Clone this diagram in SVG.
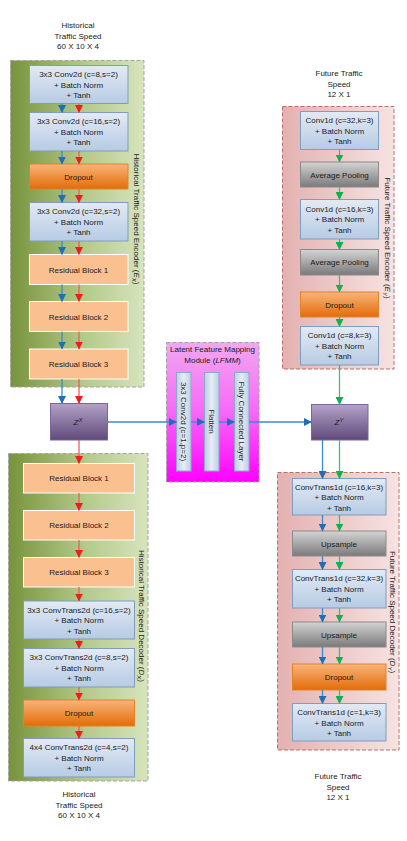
<svg xmlns="http://www.w3.org/2000/svg" width="407" height="841" viewBox="0 0 407 841">
<defs>
<linearGradient id="gGreen" x1="0" y1="0" x2="1" y2="0">
<stop offset="0" stop-color="#77933C"/><stop offset="0.55" stop-color="#B4C98A"/><stop offset="1" stop-color="#D7E4BD"/>
</linearGradient>
<linearGradient id="gPink" x1="0" y1="0" x2="1" y2="0">
<stop offset="0" stop-color="#E3B1B0"/><stop offset="1" stop-color="#F6E3E2"/>
</linearGradient>
<linearGradient id="gMag" x1="0" y1="0" x2="0" y2="1">
<stop offset="0" stop-color="#F0A8F0"/><stop offset="0.5" stop-color="#F868F8"/><stop offset="1" stop-color="#FF00FF"/>
</linearGradient>
<linearGradient id="gBlue" x1="0" y1="0" x2="0" y2="1">
<stop offset="0" stop-color="#E2EAF4"/><stop offset="1" stop-color="#B7CBE4"/>
</linearGradient>
<linearGradient id="gBar" x1="0" y1="0" x2="1" y2="0">
<stop offset="0" stop-color="#BCCDE3"/><stop offset="0.5" stop-color="#E6EDF6"/><stop offset="1" stop-color="#BCCDE3"/>
</linearGradient>
<linearGradient id="gOrange" x1="0" y1="0" x2="0" y2="1">
<stop offset="0" stop-color="#F9B47A"/><stop offset="1" stop-color="#E36C09"/>
</linearGradient>
<linearGradient id="gGray" x1="0" y1="0" x2="0" y2="1">
<stop offset="0" stop-color="#D4D4D4"/><stop offset="1" stop-color="#7A7A7A"/>
</linearGradient>
<linearGradient id="gPurple" x1="0" y1="0" x2="0" y2="1">
<stop offset="0" stop-color="#B3A2C7"/><stop offset="1" stop-color="#604A7B"/>
</linearGradient>
<marker id="aB" viewBox="0 0 8 8" refX="7.5" refY="4" markerWidth="8" markerHeight="8" orient="auto" markerUnits="userSpaceOnUse"><path d="M0,0 L8,4 L0,8 z" fill="#1F6FB8"/></marker>
<marker id="aR" viewBox="0 0 8 8" refX="7.5" refY="4" markerWidth="8" markerHeight="8" orient="auto" markerUnits="userSpaceOnUse"><path d="M0,0 L8,4 L0,8 z" fill="#F21C1C"/></marker>
<marker id="aG" viewBox="0 0 8 8" refX="7.5" refY="4" markerWidth="8" markerHeight="8" orient="auto" markerUnits="userSpaceOnUse"><path d="M0,0 L8,4 L0,8 z" fill="#12B04E"/></marker>
<style>
.t{font-family:"Liberation Sans",Arial,sans-serif;font-size:8px;fill:#1A1A1A;text-anchor:middle}
.grpG{fill:url(#gGreen);stroke:#A3A3A3;stroke-width:1;stroke-dasharray:4,2}
.grpP{fill:url(#gPink);stroke:#B8706C;stroke-width:1;stroke-dasharray:4,2}
.grpM{fill:url(#gMag);stroke:#A0A0A0;stroke-width:1;stroke-dasharray:4,2}
.blue{fill:url(#gBlue);stroke:#7F9DBF;stroke-width:1}
.bar{fill:url(#gBar);stroke:#8EA9C8;stroke-width:1}
.orange{fill:url(#gOrange);stroke:#E0822A;stroke-width:1}
.res{fill:#FAC090;stroke:#FFFFFF;stroke-width:1}
.gray{fill:url(#gGray);stroke:#8A8A8A;stroke-width:1}
.z{fill:url(#gPurple);stroke:#7B669A;stroke-width:1}
.lb{stroke:#3A8AD0;stroke-width:1.3;fill:none;marker-end:url(#aB)}
.lr{stroke:#F55A5A;stroke-width:1.3;fill:none;marker-end:url(#aR)}
.lg{stroke:#3CC078;stroke-width:1.3;fill:none;marker-end:url(#aG)}
</style>
</defs>
<rect width="407" height="841" fill="#FFFFFF"/>

<!-- titles -->
<g id="title-hist-in">
<text class="t" x="78" y="28">Historical</text>
<text class="t" x="78" y="38.5">Traffic Speed</text>
<text class="t" x="78" y="49">60 X 10 X 4</text>
</g>
<g id="title-hist-out">
<text class="t" x="79" y="797">Historical</text>
<text class="t" x="79" y="807.5">Traffic Speed</text>
<text class="t" x="79" y="818">60 X 10 X 4</text>
</g>
<g id="title-fut-in">
<text class="t" x="339" y="76">Future Traffic</text>
<text class="t" x="339" y="86.5">Speed</text>
<text class="t" x="339" y="97">12 X 1</text>
</g>
<g id="title-fut-out">
<text class="t" x="338" y="779">Future Traffic</text>
<text class="t" x="338" y="789.5">Speed</text>
<text class="t" x="338" y="800">12 X 1</text>
</g>

<!-- Historical encoder -->
<g id="enc-x">
<rect class="grpG" x="10.5" y="60.5" width="133.5" height="326.5"/>
<text class="t" transform="translate(134,219) rotate(90)">Historical Traffic Speed Encoder (<tspan font-style="italic">E</tspan><tspan font-style="italic" font-size="6" dy="2">X</tspan><tspan dy="-2">)</tspan></text>
</g>
<g id="enc-x-1">
<rect class="blue" x="29.5" y="65.5" width="98.5" height="38"/>
<text class="t" x="78.5" y="77">3x3 Conv2d (c=8,s=2)</text>
<text class="t" x="78.5" y="87.5">+ Batch Norm</text>
<text class="t" x="78.5" y="98">+ Tanh</text>
</g>
<g id="enc-x-2">
<rect class="blue" x="29.5" y="112.5" width="98.5" height="38.5"/>
<text class="t" x="78.5" y="124">3x3 Conv2d (c=16,s=2)</text>
<text class="t" x="78.5" y="134.5">+ Batch Norm</text>
<text class="t" x="78.5" y="145">+ Tanh</text>
</g>
<g id="enc-x-drop">
<rect class="orange" x="29.5" y="164" width="98.5" height="25"/>
<text class="t" x="78.5" y="179.5">Dropout</text>
</g>
<g id="enc-x-3">
<rect class="blue" x="29.5" y="202.5" width="98.5" height="38.5"/>
<text class="t" x="78.5" y="214">3x3 Conv2d (c=32,s=2)</text>
<text class="t" x="78.5" y="224.5">+ Batch Norm</text>
<text class="t" x="78.5" y="235">+ Tanh</text>
</g>
<g id="enc-x-res1">
<rect class="res" x="29.5" y="254.5" width="98.5" height="30"/>
<text class="t" x="78.5" y="272.5">Residual Block 1</text>
</g>
<g id="enc-x-res2">
<rect class="res" x="29.5" y="301.5" width="98.5" height="30"/>
<text class="t" x="78.5" y="319.5">Residual Block 2</text>
</g>
<g id="enc-x-res3">
<rect class="res" x="29.5" y="349" width="98.5" height="30"/>
<text class="t" x="78.5" y="367">Residual Block 3</text>
</g>

<!-- Z^X -->
<g id="zx">
<rect class="z" x="50.5" y="403.5" width="57" height="36.5"/>
<text class="t" x="78" y="425"><tspan font-style="italic">Z</tspan><tspan font-style="italic" font-size="6" dy="-3.5">X</tspan></text>
</g>

<!-- Historical decoder -->
<g id="dec-x">
<rect class="grpG" x="8.5" y="453.5" width="139.5" height="327.5"/>
<text class="t" transform="translate(139,616) rotate(90)">Historical Traffic Speed Decoder (<tspan font-style="italic">D</tspan><tspan font-style="italic" font-size="6" dy="2">X</tspan><tspan dy="-2">)</tspan></text>
</g>
<g id="dec-x-res1">
<rect class="res" x="23.5" y="463.5" width="111" height="29.5"/>
<text class="t" x="79" y="481">Residual Block 1</text>
</g>
<g id="dec-x-res2">
<rect class="res" x="23.5" y="510.5" width="111" height="29.5"/>
<text class="t" x="79" y="528">Residual Block 2</text>
</g>
<g id="dec-x-res3">
<rect class="res" x="23.5" y="557.5" width="111" height="29.5"/>
<text class="t" x="79" y="575">Residual Block 3</text>
</g>
<g id="dec-x-1">
<rect class="blue" x="23.5" y="601" width="111" height="38"/>
<text class="t" x="79" y="612.5">3x3 ConvTrans2d (c=16,s=2)</text>
<text class="t" x="79" y="623">+ Batch Norm</text>
<text class="t" x="79" y="633.5">+ Tanh</text>
</g>
<g id="dec-x-2">
<rect class="blue" x="23.5" y="648.5" width="111" height="38.5"/>
<text class="t" x="79" y="660">3x3 ConvTrans2d (c=8,s=2)</text>
<text class="t" x="79" y="670.5">+ Batch Norm</text>
<text class="t" x="79" y="681">+ Tanh</text>
</g>
<g id="dec-x-drop">
<rect class="orange" x="23.5" y="700" width="111" height="26"/>
<text class="t" x="79" y="716">Dropout</text>
</g>
<g id="dec-x-3">
<rect class="blue" x="23.5" y="738.5" width="111" height="38.5"/>
<text class="t" x="79" y="750">4x4 ConvTrans2d (c=4,s=2)</text>
<text class="t" x="79" y="760.5">+ Batch Norm</text>
<text class="t" x="79" y="771">+ Tanh</text>
</g>

<!-- LFMM -->
<g id="lfmm">
<rect class="grpM" x="166.5" y="342.5" width="92.5" height="139.5"/>
<text class="t" x="212.5" y="352">Latent Feature Mapping</text>
<text class="t" x="212.5" y="362.5">Module (<tspan font-style="italic">LFMM</tspan>)</text>
</g>
<g id="lfmm-conv">
<rect class="bar" x="176.5" y="372.5" width="14.5" height="98.5"/>
<text class="t" transform="translate(181,421.5) rotate(90)">3x3 Conv2d (c=1,p=2)</text>
</g>
<g id="lfmm-flat">
<rect class="bar" x="204.5" y="372.5" width="14.5" height="98.5"/>
<text class="t" transform="translate(209,421.5) rotate(90)">Flatten</text>
</g>
<g id="lfmm-fc">
<rect class="bar" x="234.5" y="372.5" width="14.5" height="98.5"/>
<text class="t" transform="translate(239,421.5) rotate(90)">Fully Connected Layer</text>
</g>

<!-- Future encoder -->
<g id="enc-y">
<rect class="grpP" x="282.5" y="106.5" width="111.5" height="262.5"/>
<text class="t" transform="translate(384.5,238) rotate(90)">Future Traffic Speed Encoder (<tspan font-style="italic">E</tspan><tspan font-style="italic" font-size="6" dy="2">Y</tspan><tspan dy="-2">)</tspan></text>
</g>
<g id="enc-y-1">
<rect class="blue" x="300.5" y="111.5" width="78" height="38"/>
<text class="t" x="339.5" y="123">Conv1d (c=32,k=3)</text>
<text class="t" x="339.5" y="133.5">+ Batch Norm</text>
<text class="t" x="339.5" y="144">+ Tanh</text>
</g>
<g id="enc-y-pool1">
<rect class="gray" x="300.5" y="162" width="78" height="25"/>
<text class="t" x="339.5" y="177.5">Average Pooling</text>
</g>
<g id="enc-y-2">
<rect class="blue" x="300.5" y="199.5" width="78" height="39.5"/>
<text class="t" x="339.5" y="211.5">Conv1d (c=16,k=3)</text>
<text class="t" x="339.5" y="222">+ Batch Norm</text>
<text class="t" x="339.5" y="232.5">+ Tanh</text>
</g>
<g id="enc-y-pool2">
<rect class="gray" x="300.5" y="249.5" width="78" height="25.5"/>
<text class="t" x="339.5" y="265">Average Pooling</text>
</g>
<g id="enc-y-drop">
<rect class="orange" x="300.5" y="292" width="78" height="25"/>
<text class="t" x="339.5" y="307.5">Dropout</text>
</g>
<g id="enc-y-3">
<rect class="blue" x="300.5" y="326.5" width="78" height="38.5"/>
<text class="t" x="339.5" y="338">Conv1d (c=8,k=3)</text>
<text class="t" x="339.5" y="348.5">+ Batch Norm</text>
<text class="t" x="339.5" y="359">+ Tanh</text>
</g>

<!-- Z^Y -->
<g id="zy">
<rect class="z" x="311.5" y="404.5" width="56.5" height="35.5"/>
<text class="t" x="339" y="425"><tspan font-style="italic">Z</tspan><tspan font-style="italic" font-size="6" dy="-3.5">Y</tspan></text>
</g>

<!-- Future decoder -->
<g id="dec-y">
<rect class="grpP" x="277.5" y="472.5" width="121.5" height="277.5"/>
<text class="t" transform="translate(389.5,612) rotate(90)">Future Traffic Speed Decoder (<tspan font-style="italic">D</tspan><tspan font-style="italic" font-size="6" dy="2">Y</tspan><tspan dy="-2">)</tspan></text>
</g>
<g id="dec-y-1">
<rect class="blue" x="292.5" y="478.5" width="93.5" height="36.5"/>
<text class="t" x="339" y="489.5">ConvTrans1d (c=16,k=3)</text>
<text class="t" x="339" y="500">+ Batch Norm</text>
<text class="t" x="339" y="510.5">+ Tanh</text>
</g>
<g id="dec-y-up1">
<rect class="gray" x="292.5" y="531" width="93.5" height="25"/>
<text class="t" x="339" y="546.5">Upsample</text>
</g>
<g id="dec-y-2">
<rect class="blue" x="292.5" y="569.5" width="93.5" height="38.5"/>
<text class="t" x="339" y="581">ConvTrans1d (c=32,k=3)</text>
<text class="t" x="339" y="591.5">+ Batch Norm</text>
<text class="t" x="339" y="602">+ Tanh</text>
</g>
<g id="dec-y-up2">
<rect class="gray" x="292.5" y="622" width="93.5" height="25"/>
<text class="t" x="339" y="637.5">Upsample</text>
</g>
<g id="dec-y-drop">
<rect class="orange" x="292.5" y="664" width="93.5" height="26"/>
<text class="t" x="339" y="680">Dropout</text>
</g>
<g id="dec-y-3">
<rect class="blue" x="292.5" y="703.5" width="93.5" height="37.5"/>
<text class="t" x="339" y="715">ConvTrans1d (c=1,k=3)</text>
<text class="t" x="339" y="725.5">+ Batch Norm</text>
<text class="t" x="339" y="736">+ Tanh</text>
</g>

<!-- connectors -->
<g id="connectors">
<line class="lb" x1="62" y1="103.5" x2="62" y2="112.5"/>
<line class="lr" x1="79" y1="103.5" x2="79" y2="112.5"/>
<line class="lb" x1="62" y1="151" x2="62" y2="164"/>
<line class="lr" x1="79" y1="151" x2="79" y2="164"/>
<line class="lb" x1="62" y1="189" x2="62" y2="202.5"/>
<line class="lr" x1="79" y1="189" x2="79" y2="202.5"/>
<line class="lb" x1="62" y1="241" x2="62" y2="254.5"/>
<line class="lr" x1="79" y1="241" x2="79" y2="254.5"/>
<line class="lb" x1="62" y1="284.5" x2="62" y2="301.5"/>
<line class="lr" x1="79" y1="284.5" x2="79" y2="301.5"/>
<line class="lb" x1="62" y1="331.5" x2="62" y2="349"/>
<line class="lr" x1="79" y1="331.5" x2="79" y2="349"/>
<line class="lb" x1="62" y1="379" x2="62" y2="403.5"/>
<line class="lr" x1="79" y1="379" x2="79" y2="403.5"/>
<line class="lr" x1="79" y1="440" x2="79" y2="463.5"/>
<line class="lr" x1="79" y1="493" x2="79" y2="510.5"/>
<line class="lr" x1="79" y1="540" x2="79" y2="557.5"/>
<line class="lr" x1="79" y1="587" x2="79" y2="601"/>
<line class="lr" x1="79" y1="639" x2="79" y2="648.5"/>
<line class="lr" x1="79" y1="687" x2="79" y2="700"/>
<line class="lr" x1="79" y1="726" x2="79" y2="738.5"/>
<line class="lb" x1="107.5" y1="422" x2="176.5" y2="422"/>
<line class="lb" x1="191" y1="422" x2="204.5" y2="422"/>
<line class="lb" x1="219" y1="422" x2="234.5" y2="422"/>
<line class="lb" x1="249" y1="422" x2="311.5" y2="422"/>
<line class="lg" x1="339.5" y1="149.5" x2="339.5" y2="162"/>
<line class="lg" x1="339.5" y1="187" x2="339.5" y2="199.5"/>
<line class="lg" x1="339.5" y1="239" x2="339.5" y2="249.5"/>
<line class="lg" x1="339.5" y1="275" x2="339.5" y2="292"/>
<line class="lg" x1="339.5" y1="317" x2="339.5" y2="326.5"/>
<line class="lg" x1="339.5" y1="365" x2="339.5" y2="404.5"/>
<line class="lb" x1="322.5" y1="440" x2="322.5" y2="478.5"/>
<line class="lg" x1="339.5" y1="440" x2="339.5" y2="478.5"/>
<line class="lb" x1="322.5" y1="515" x2="322.5" y2="531"/>
<line class="lg" x1="339.5" y1="515" x2="339.5" y2="531"/>
<line class="lb" x1="322.5" y1="556" x2="322.5" y2="569.5"/>
<line class="lg" x1="339.5" y1="556" x2="339.5" y2="569.5"/>
<line class="lb" x1="322.5" y1="608" x2="322.5" y2="622"/>
<line class="lg" x1="339.5" y1="608" x2="339.5" y2="622"/>
<line class="lb" x1="322.5" y1="647" x2="322.5" y2="664"/>
<line class="lg" x1="339.5" y1="647" x2="339.5" y2="664"/>
<line class="lb" x1="322.5" y1="690" x2="322.5" y2="703.5"/>
<line class="lg" x1="339.5" y1="690" x2="339.5" y2="703.5"/>
</g>
</svg>
